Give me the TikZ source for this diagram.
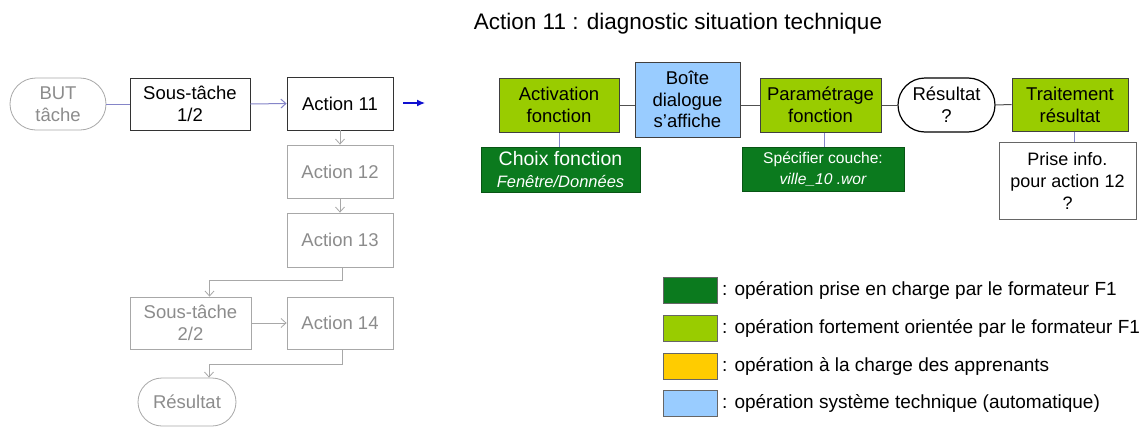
\documentclass[tikz,border=0pt]{standalone}
\usepackage{fontspec}
\setmainfont{Liberation Sans}
\usetikzlibrary{shapes.misc,arrows.meta,calc}
\definecolor{dgreen}{HTML}{0B7A1E}
\definecolor{lgreen}{HTML}{99CC00}
\definecolor{lblue}{HTML}{99CCFF}
\definecolor{lyellow}{HTML}{FFCC00}
\definecolor{lgray}{HTML}{A8A8A8}
\definecolor{tgray}{HTML}{8C8C8C}
\definecolor{purp}{HTML}{8585C8}
\definecolor{dline}{HTML}{505050}
\definecolor{arrblue}{HTML}{1010D0}
\tikzset{
  base/.style={inner sep=0pt, align=center, font=\fontsize{18.5}{22}\selectfont},
  bbox/.style={base, draw=black!80, line width=0.8pt},
  gbox/.style={base, draw=lgray, text=tgray, line width=0.8pt},
  gstad/.style={gbox, rounded rectangle},
  lgbox/.style={base, draw=black!75, fill=lgreen, line width=1pt},
  lbbox/.style={base, draw=black!75, fill=lblue, line width=1pt},
  dgbox/.style={base, fill=dgreen, draw=dgreen!70!black, text=white, line width=0.6pt},
  wbox/.style={base, draw=black!60, fill=white, line width=0.8pt},
  legsq/.style={draw=black!60, line width=0.6pt, minimum width=54pt, minimum height=26pt, inner sep=0pt},
  legtxt/.style={anchor=west, inner sep=0pt, font=\fontsize{19}{22}\selectfont},
  garrow/.style={draw=lgray, line width=0.8pt, -{Straight Barb[length=5pt,width=9pt]}},
  parrow/.style={draw=purp, line width=1pt, -{Straight Barb[length=5pt,width=9pt]}},
  pline/.style={draw=purp, line width=1pt},
  dconn/.style={draw=dline, line width=1pt},
}
\begin{document}
\begin{tikzpicture}[x=1pt,y=-1pt]
\useasboundingbox[fill=white] (0,0) rectangle (1144,426);

% left task tree
\node[gstad, minimum width=96pt, minimum height=52pt] (but) at (58,104) {BUT\\tâche};
\node[bbox, minimum width=120pt, minimum height=52pt] (st1) at (190,104) {Sous-tâche\\1/2};
\node[bbox, minimum width=106pt, minimum height=53pt] (a11) at (340,103.5) {Action 11};
\node[gbox, minimum width=106pt, minimum height=53pt] (a12) at (340,171.5) {Action 12};
\node[gbox, minimum width=106pt, minimum height=54pt] (a13) at (340,240) {Action 13};
\node[gbox, minimum width=121pt, minimum height=52pt] (st2) at (190.5,323) {Sous-tâche\\2/2};
\node[gbox, minimum width=106pt, minimum height=52pt] (a14) at (340,323) {Action 14};
\node[gstad, minimum width=98pt, minimum height=48pt] (res) at (187,402) {Résultat};

\draw[pline] (but.east) -- (st1.west);
\draw[parrow] (st1.east) -- (a11.west);
\coordinate (bs) at (403,103);
\coordinate (be) at (425,103);
\draw[arrblue, line width=1.2pt, -{Latex[length=8pt,width=7pt]}] (bs) -- (be);
\draw[garrow] (a11.south) -- (a12.north);
\draw[garrow] (a12.south) -- (a13.north);
\draw[garrow] ([xshift=2pt]a13.south) -- ++(0,13) -| ([xshift=19pt]st2.north);
\draw[garrow] (st2.east) -- (a14.west);
\draw[garrow] ([xshift=2pt]a14.south) -- ++(0,15) -| ([xshift=22pt]res.north);

% title
\node[inner sep=0pt, font=\fontsize{22.5}{26}\selectfont] (title) at (678,24) {Action 11 : diagnostic situation technique};

% right detailed action
\node[lgbox, minimum width=120pt, minimum height=54pt] (act) at (559,105) {Activation\\fonction};
\node[lbbox, minimum width=105pt, minimum height=75pt, font=\fontsize{18.5}{21.5}\selectfont] (boite) at (687.5,99.5) {Boîte\\dialogue\\s’affiche};
\node[lgbox, minimum width=121pt, minimum height=54pt] (param) at (820.5,105) {Paramétrage\\fonction};
\node[wbox, draw=black, line width=1.2pt, rounded rectangle, minimum width=97pt, minimum height=54pt] (resq) at (946.5,105) {Résultat\\?};
\node[lgbox, minimum width=116pt, minimum height=53pt] (trait) at (1070,104.5) {Traitement\\résultat};
\node[dgbox, minimum width=159pt, minimum height=45pt] (choix) at (560.5,169.5)
  {{\fontsize{19.5}{22}\selectfont Choix fonction}\\{\fontsize{16.5}{19}\selectfont\itshape Fenêtre/Données}};
\node[dgbox, minimum width=162pt, minimum height=44pt, font=\fontsize{15.6}{21}\selectfont] (spec) at (823,169)
  {Spécifier couche:\\\itshape ville\_10 .wor};
\node[wbox, minimum width=137pt, minimum height=77pt, font=\fontsize{18}{22}\selectfont] (prise) at (1067.5,180.5)
  {Prise info.\\pour action 12\\?};

\draw[dconn] (act.east) -- (act.east -| boite.west);
\draw[dconn] (param.west -| boite.east) -- (param.west);
\draw[dconn] (param.east) -- (resq.west);
\draw[dconn] (resq.east) -- (trait.west);
\draw[pline] (act.south) -- (act.south |- choix.north);
\draw[pline] ([xshift=4pt]param.south) -- ([xshift=4pt]param.south |- spec.north);
\draw[pline] ([xshift=4pt]trait.south) -- ([xshift=4pt]trait.south |- prise.north);

% legend
\node[legsq, fill=dgreen] (l1) at (690,290) {};
\node[legsq, fill=lgreen] (l2) at (690,328.5) {};
\node[legsq, fill=lyellow] (l3) at (690,366) {};
\node[legsq, fill=lblue] (l4) at (690,403) {};
\node[legtxt] (t1) at (722,290) {: opération prise en charge par le formateur F1};
\node[legtxt] (t2) at (722,328.5) {: opération fortement orientée par le formateur F1};
\node[legtxt] (t3) at (722,366) {: opération à la charge des apprenants};
\node[legtxt] (t4) at (722,403) {: opération système technique (automatique)};
\end{tikzpicture}
\end{document}
